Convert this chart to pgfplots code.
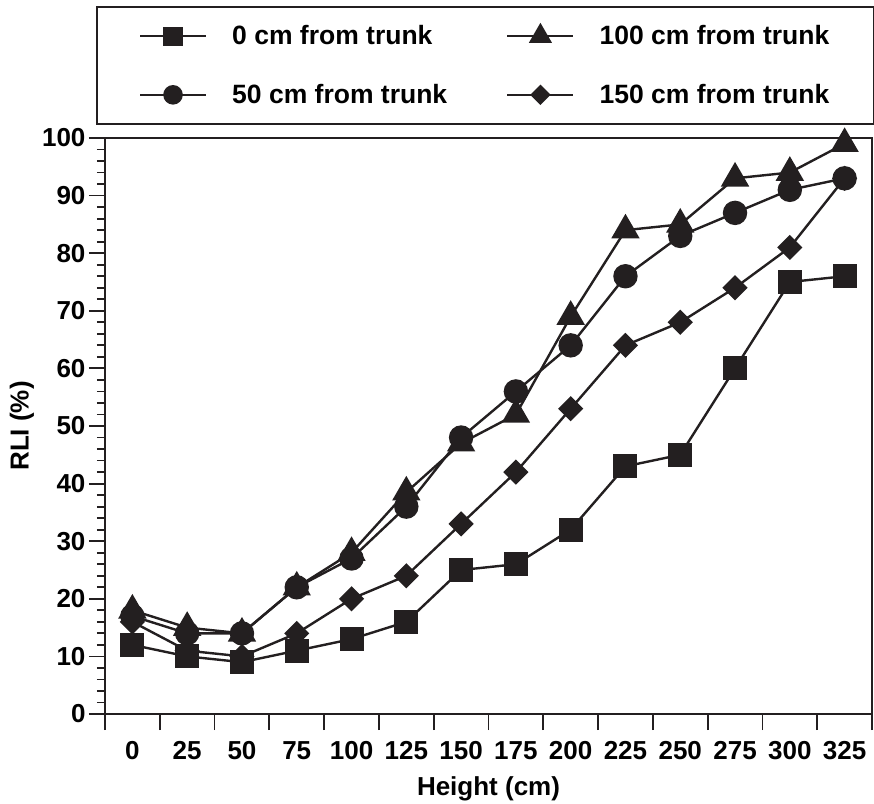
\documentclass[border=0pt]{standalone}
\usepackage{pgfplots}
\pgfplotsset{compat=1.18}
\usepackage{fontspec}
\setmainfont{Liberation Sans}
\definecolor{ink}{HTML}{231F20}

\begin{document}
\begin{tikzpicture}
\begin{axis}[
  scale only axis, width=767pt, height=576pt,
  xmin=-12.5, xmax=337.5, ymin=0, ymax=100,
  axis line style={line width=2.6pt, ink},
  font=\bfseries\fontsize{26}{28}\selectfont,
  /pgf/number format/assume math mode=true,
  tick align=outside,
  xtick pos=bottom, ytick pos=left,
  major tick length=16pt, minor tick length=8pt,
  tick style={line width=1.8pt, ink},
  xtick={-12.5,12.5,...,337.5},
  xticklabels={},
  extra x ticks={0,25,...,325},
  extra x tick labels={0,25,50,75,100,125,150,175,200,225,250,275,300,325},
  extra x tick style={tick style={draw=none}, xticklabel style={yshift=-8pt}},
  ytick={0,10,...,100},
  minor y tick num=4,
  xlabel={Height (cm)},
  ylabel={RLI (\%)},
  xlabel style={at={(axis description cs:0.5,-0.1302)}, anchor=center},
  ylabel style={at={(axis description cs:-0.1082,0.5)}, anchor=center},
  every axis plot/.append style={line width=2.4pt, ink},
  legend columns=2,
  legend cell align=left,
  legend image code/.code={
    \draw[#1, mark=none] (-33pt,0pt) -- (33pt,0pt);
    \draw[#1, every mark/.append style={scale=0.78}] plot coordinates {(0pt,0pt)};
  },
  legend style={at={(rel axis cs:-0.0117,1.0226)}, anchor=south west,
    draw=ink, line width=1.6pt, inner xsep=42pt, inner ysep=17pt,
    font=\bfseries\fontsize{26.5}{28}\selectfont,
    nodes={inner sep=2pt},
    row sep=34pt,
    /tikz/every odd column/.append style={column sep=23pt},
    /tikz/every even column/.append style={column sep=57pt}},
]
\coordinate (O) at (rel axis cs:0,0);
\addplot[mark=square*, mark size=10.8pt, mark options={solid, fill=ink}] coordinates {
(0,12) (25,10) (50,9) (75,11) (100,13) (125,16) (150,25) (175,26) (200,32) (225,43) (250,45) (275,60) (300,75) (325,76)};
\addlegendentry{0 cm from trunk}
\addplot[mark=triangle*, mark size=14pt, mark options={solid, fill=ink}] coordinates {
(0,18) (25,15) (50,14) (75,22) (100,28) (125,38.5) (150,47) (175,52) (200,69) (225,84) (250,85) (275,93) (300,94) (325,99)};
\addlegendentry{100 cm from trunk}
\addplot[mark=*, mark size=11pt, mark options={solid, fill=ink}] coordinates {
(0,17) (25,14) (50,14) (75,22) (100,27) (125,36) (150,48) (175,56) (200,64) (225,76) (250,83) (275,87) (300,91) (325,93)};
\addlegendentry{50 cm from trunk}
\addplot[mark=square*, mark size=7.7pt, mark options={solid, fill=ink, rotate=45}] coordinates {
(0,16) (25,11) (50,10) (75,14) (100,20) (125,24) (150,33) (175,42) (200,53) (225,64) (250,68) (275,74) (300,81) (325,93)};
\addlegendentry{150 cm from trunk}
\end{axis}
\pgfresetboundingbox
\path (O) ++(-105pt,-89pt) rectangle ++(874pt,803pt);
\end{tikzpicture}
\end{document}
